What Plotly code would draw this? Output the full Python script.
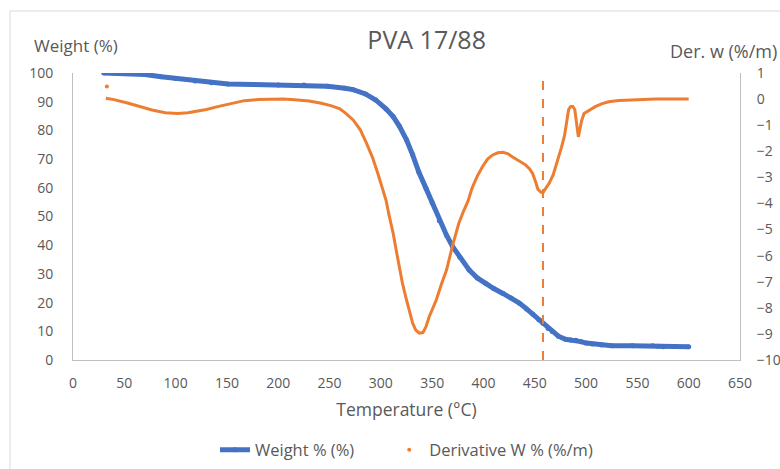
import plotly.graph_objects as go

# Thermogravimetric data for PVA 17/88
temp_w = [30, 54, 70, 86, 100, 119, 135, 151, 175, 200, 225, 248, 265, 273, 285,
          295, 305, 312, 318, 325, 331, 337, 344, 350, 357, 364, 370, 377, 386,
          394, 402, 410, 419, 427, 435, 442, 448, 454, 458, 463, 467, 473, 480,
          485, 490, 495, 500, 506, 515, 525, 545, 565, 570, 575, 600]
weight = [100.0, 99.9, 99.5, 98.7, 98.1, 97.2, 96.6, 96.2, 96.0, 95.8, 95.8, 95.4,
          94.7, 94.2, 92.7, 90.6, 87.5, 84.8, 81.5, 76.7, 71.5, 65.5, 59.8, 54.8,
          48.5, 43.5, 39.5, 35.8, 31.4, 28.6, 26.7, 24.9, 23.2, 21.6, 19.8, 17.8,
          16.0, 14.0, 12.8, 11.0, 9.9, 8.3, 7.2, 7.0, 6.9, 6.4, 5.9, 5.6, 5.2,
          5.0, 5.0, 5.0, 4.8, 4.6, 4.6]

temp_d = [32, 40, 54, 65, 77, 90, 102, 112, 119, 130, 141, 155, 167, 180, 193, 205,
          216, 230, 242, 252, 260, 265, 273, 280, 286, 292, 297, 301, 305, 308,
          312, 315, 318, 321, 325, 328, 331, 334, 337.5, 341, 344, 347, 350, 354,
          359, 364, 370, 376, 380, 385, 389, 394, 399, 404, 409, 414, 419, 424,
          428, 435, 441, 445, 448, 451, 453, 456, 458, 461, 464, 468, 472, 476,
          479, 481, 483, 485, 487, 489, 490.5, 492.5, 494, 495.5, 498, 503, 509,
          515, 522, 532, 542, 555, 568, 585, 600]
deriv = [0.03, -0.02, -0.16, -0.28, -0.42, -0.52, -0.55, -0.52, -0.48, -0.40, -0.29,
         -0.16, -0.06, -0.02, -0.01, 0.0, -0.03, -0.07, -0.16, -0.26, -0.37, -0.52,
         -0.80, -1.18, -1.69, -2.25, -2.84, -3.35, -3.87, -4.45, -5.14, -5.80,
         -6.42, -7.05, -7.70, -8.20, -8.59, -8.85, -8.97, -8.95, -8.72, -8.35,
         -8.08, -7.70, -7.10, -6.55, -5.60, -4.76, -4.35, -3.90, -3.40, -2.95,
         -2.59, -2.30, -2.14, -2.06, -2.04, -2.10, -2.21, -2.36, -2.52, -2.68,
         -2.86, -3.20, -3.45, -3.57, -3.59, -3.40, -3.23, -2.90, -2.40, -1.85,
         -1.40, -0.90, -0.40, -0.28, -0.28, -0.40, -0.80, -1.45, -1.15, -0.85,
         -0.55, -0.42, -0.29, -0.18, -0.10, -0.05, -0.03, -0.01, 0.0, 0.0, 0.0]

# first recorded derivative reading, drawn as a lone point
deriv_first_t = [33]
deriv_first = [0.48]

marker_temp = 458

x_ticks = list(range(0, 651, 50))
y_ticks = list(range(0, 101, 10))
y2_ticks = list(range(-10, 2, 1))

BLUE = "#4472C4"
ORANGE = "#ED7D31"
TEXT = "#595959"
AXIS = "#BFBFBF"
FONT = "Open Sans"
PAD = "\u00a0" * 7  # extra room after the first legend entry

fig = go.Figure()

fig.add_trace(go.Scatter(
    x=temp_d, y=deriv, yaxis="y2", mode="lines",
    line=dict(color=ORANGE, width=3), showlegend=False, hoverinfo="skip"))

fig.add_trace(go.Scatter(
    x=temp_w, y=weight, mode="lines+markers", name="Weight % (%)" + PAD,
    line=dict(color=BLUE, width=5), marker=dict(color=BLUE, size=5)))

fig.add_trace(go.Scatter(
    x=deriv_first_t, y=deriv_first, yaxis="y2", mode="markers",
    name="Derivative W % (%/m)", marker=dict(color=ORANGE, size=4)))

fig.update_layout(
    width=780, height=469,
    margin=dict(l=73, r=40, t=73, b=109),
    paper_bgcolor="white", plot_bgcolor="white",
    font=dict(family=FONT, color=TEXT, size=14),
    title=dict(text="PVA 17/88", x=0.547, xanchor="center", y=0.915, yanchor="middle",
               font=dict(size=25, color=TEXT)),
    xaxis=dict(range=[0, 650], tickvals=x_ticks, showline=True, linecolor=AXIS,
               linewidth=1, showgrid=False, zeroline=False, ticks="",
               ticklabelstandoff=10, automargin=False,
               title=dict(text="Temperature (°C)", font=dict(size=17.5, color=TEXT),
                          standoff=12)),
    yaxis=dict(range=[0, 100], tickvals=y_ticks, showline=True, linecolor=AXIS,
               linewidth=1, showgrid=False, zeroline=False, ticks="",
               ticklabelstandoff=16, automargin=False),
    yaxis2=dict(range=[-10, 1], tickvals=y2_ticks, overlaying="y", side="right",
                showline=True, linecolor=AXIS, linewidth=1, showgrid=False,
                zeroline=False, ticks="", ticklabelstandoff=13, automargin=False),
    legend=dict(orientation="h", xref="paper", x=0.5, xanchor="center",
                yref="container", y=1 - 450 / 469, yanchor="middle",
                font=dict(size=16.5, color=TEXT), bgcolor="rgba(0,0,0,0)"),
    showlegend=True,
)

# axis captions above each vertical axis
fig.add_annotation(text="Weight (%)", xref="paper", yref="paper", x=(32 - 73) / 667,
                   y=1.095, xanchor="left", yanchor="middle", showarrow=False,
                   font=dict(size=17, color=TEXT))
fig.add_annotation(text="Der. w (%/m)", xref="paper", yref="paper", x=(779 - 73) / 667,
                   y=1.075, xanchor="right", yanchor="middle", showarrow=False,
                   font=dict(size=18, color=TEXT))

# dashed guide at the second decomposition step
fig.add_shape(type="line", xref="x", yref="paper", x0=marker_temp, x1=marker_temp,
              y0=0, y1=0.99, line=dict(color=ORANGE, width=2, dash="dash"))

# chart frame
fig.add_shape(type="rect", xref="paper", yref="paper",
              x0=(10 - 73) / 667, x1=(790 - 73) / 667,
              y0=(360 - 480) / 287, y1=(360 - 11) / 287,
              line=dict(color="#D9D9D9", width=1), layer="below")

fig.write_html("out.html")
